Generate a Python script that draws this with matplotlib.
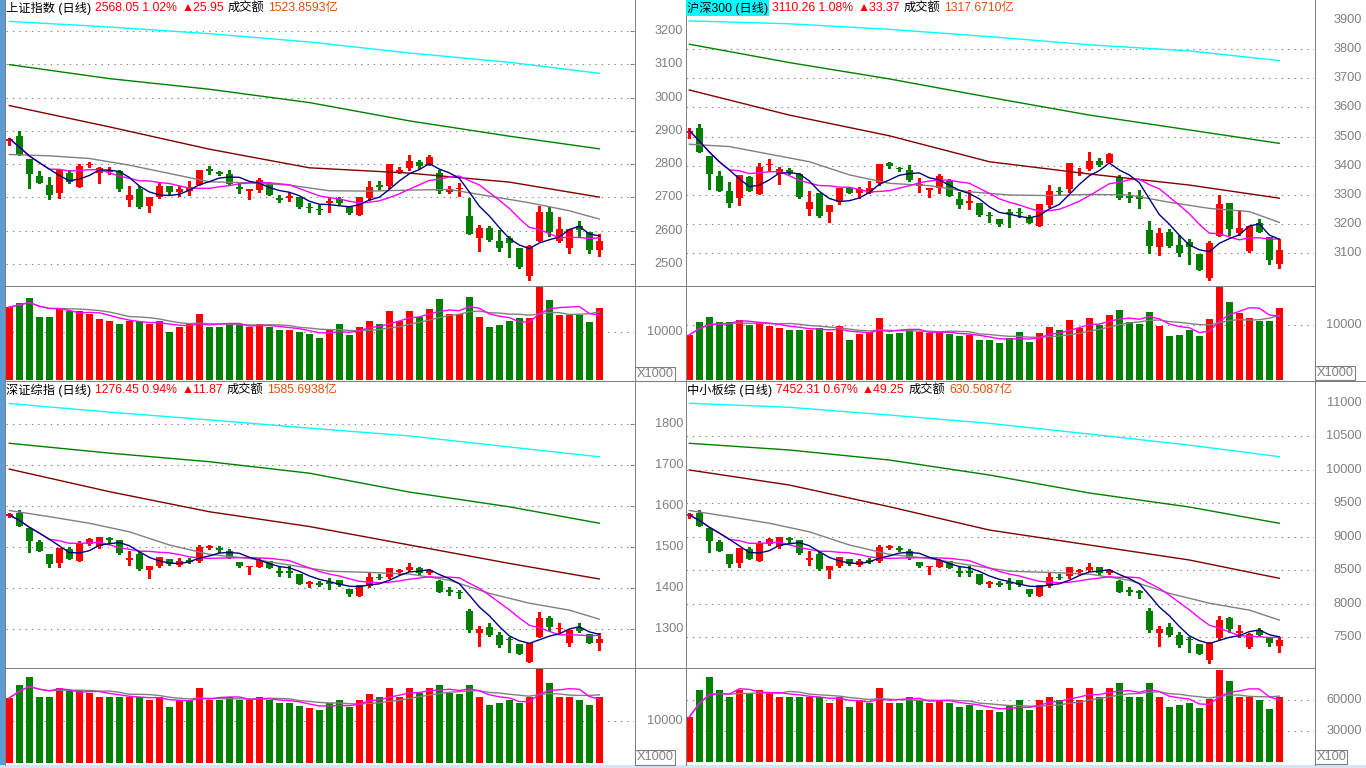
import numpy as np
import pandas as pd
import matplotlib
matplotlib.use("Agg")
import matplotlib.pyplot as plt
from matplotlib.lines import Line2D
from matplotlib.patches import Rectangle
from matplotlib.transforms import blended_transform_factory

# ---------------- data ----------------
# 上证指数
TL_open = [2870,2884,2815,2764,2737,2714,2772,2730,2798,2772,2779,2779,2692,2725,2675,2700,2734,2717,2720,2737,2783,2777,2770,2730,2721,2722,2740,2697,2700,2700,2671,2666,2682,2695,2672,2648,2699,2735,2735,2779,2787,2807,2797,2772,2717,2726,2644,2579,2609,2569,2579,2549,2465,2570,2657,2570,2547,2614,2596,2542]
TL_high = [2878,2899,2815,2779,2762,2782,2782,2801,2805,2791,2792,2781,2735,2734,2700,2744,2734,2735,2749,2782,2794,2779,2782,2742,2722,2758,2742,2707,2716,2702,2682,2677,2697,2701,2672,2701,2749,2749,2800,2791,2827,2812,2826,2781,2735,2742,2698,2617,2614,2602,2584,2549,2557,2674,2672,2642,2605,2629,2596,2589]
TL_low = [2857,2826,2729,2744,2695,2699,2744,2730,2790,2744,2769,2719,2674,2668,2657,2698,2708,2705,2707,2737,2770,2768,2738,2714,2695,2716,2706,2686,2689,2668,2657,2651,2657,2679,2650,2648,2692,2723,2727,2774,2782,2788,2797,2713,2713,2704,2589,2540,2569,2540,2522,2488,2452,2570,2585,2567,2533,2584,2533,2524]
TL_close = [2877,2826,2771,2744,2707,2782,2747,2795,2799,2789,2781,2725,2707,2670,2700,2735,2717,2725,2732,2782,2781,2771,2740,2728,2722,2752,2707,2695,2702,2670,2669,2662,2690,2684,2654,2701,2731,2734,2800,2781,2809,2795,2822,2719,2724,2728,2589,2609,2572,2549,2564,2492,2554,2657,2597,2605,2605,2602,2542,2568]
TL_vol = [15200,16100,17100,13100,13100,14800,14400,14400,13700,12700,12200,11600,12200,12200,11600,12200,10100,11000,11600,13700,11000,11000,11600,11600,11000,11600,11000,10500,10500,9900,9500,8800,10500,11600,9300,11000,12200,11600,14400,12200,14400,13100,14800,16900,13700,13700,17300,13100,11000,11400,12200,12900,12900,19400,16700,13500,13500,13500,12100,15000]
TL_ma250 = [3229,3212,3192,3167,3134,3106,3073]
TL_ma120 = [3099,3057,3025,2985,2930,2884,2846]
TL_ma60 = [2976,2912,2845,2789,2773,2746,2701]
TL_ma20 = [2829,2825,2817,2797,2772,2747,2744,2737,2720,2719,2722,2724,2704,2684,2660,2635]

# 沪深300
TR_open = [3511,3529,3434,3366,3314,3289,3362,3303,3403,3371,3386,3371,3252,3308,3240,3275,3325,3306,3306,3340,3409,3394,3386,3333,3320,3325,3349,3286,3276,3274,3231,3218,3241,3241,3222,3195,3264,3312,3321,3377,3389,3417,3411,3363,3295,3298,3180,3123,3174,3129,3140,3098,3014,3161,3274,3171,3108,3203,3155,3062]
TR_high = [3528,3542,3434,3382,3343,3369,3365,3411,3424,3397,3392,3374,3314,3308,3266,3325,3329,3329,3348,3405,3414,3397,3403,3357,3321,3371,3354,3309,3317,3274,3243,3218,3252,3254,3231,3269,3334,3329,3409,3394,3449,3426,3443,3369,3309,3317,3211,3186,3182,3163,3149,3098,3142,3300,3274,3249,3194,3218,3155,3149]
TR_low = [3494,3449,3321,3314,3260,3264,3312,3303,3382,3338,3371,3291,3232,3225,3206,3269,3306,3291,3306,3334,3392,3382,3348,3311,3294,3308,3297,3254,3252,3229,3209,3195,3191,3226,3203,3195,3260,3300,3309,3369,3386,3401,3411,3286,3275,3257,3100,3094,3123,3091,3062,3043,3009,3161,3163,3163,3104,3174,3064,3051]
TR_close = [3521,3449,3372,3314,3274,3369,3314,3397,3405,3389,3377,3294,3275,3228,3266,3325,3308,3321,3323,3405,3400,3388,3351,3334,3321,3365,3297,3264,3277,3231,3229,3200,3234,3239,3205,3269,3314,3311,3409,3378,3417,3403,3441,3289,3293,3285,3126,3171,3125,3102,3120,3043,3137,3269,3182,3186,3194,3174,3077,3110]
TR_vol = [8200,10500,11500,10500,10500,10900,10000,10500,9800,9500,9100,9100,9100,9500,8700,9800,7300,8400,8700,11300,8400,8500,9100,8700,8500,8700,8400,8000,8200,7300,7300,6700,7600,8700,6900,8500,9600,9100,10900,9500,11300,10000,11800,12700,10500,10200,12400,9800,8000,8200,9100,8000,11100,16900,14200,12200,11300,10700,10700,13100]
TR_ma250 = [3897,3887,3868,3843,3815,3794,3761]
TR_ma120 = [3817,3754,3698,3635,3574,3523,3477]
TR_ma60 = [3660,3574,3503,3414,3372,3334,3289]
TR_ma20 = [3474,3466,3440,3414,3369,3340,3332,3311,3300,3298,3302,3300,3275,3254,3243,3206]

# 深证综指
BL_open = [1577,1584,1547,1513,1484,1460,1495,1466,1507,1503,1523,1517,1470,1482,1444,1454,1471,1456,1466,1467,1500,1498,1490,1464,1452,1452,1467,1440,1439,1434,1411,1413,1414,1419,1397,1381,1406,1426,1428,1441,1444,1450,1436,1417,1393,1390,1344,1291,1304,1285,1275,1263,1220,1281,1328,1301,1267,1303,1287,1265]
BL_high = [1584,1590,1547,1517,1484,1498,1501,1515,1521,1524,1525,1517,1490,1489,1454,1476,1471,1472,1474,1505,1506,1502,1495,1464,1453,1472,1467,1452,1454,1434,1417,1417,1424,1419,1397,1407,1436,1433,1450,1446,1460,1452,1446,1419,1403,1395,1350,1307,1314,1293,1281,1263,1267,1341,1332,1314,1297,1314,1287,1291]
BL_low = [1572,1552,1487,1491,1452,1452,1471,1466,1505,1497,1513,1484,1456,1444,1425,1452,1456,1454,1460,1464,1495,1489,1472,1452,1433,1452,1448,1430,1428,1410,1403,1405,1398,1406,1381,1381,1403,1422,1424,1433,1441,1433,1433,1391,1383,1376,1292,1259,1284,1257,1245,1238,1219,1281,1298,1293,1259,1292,1265,1249]
BL_close = [1578,1552,1515,1491,1458,1498,1471,1509,1519,1524,1517,1485,1471,1446,1454,1475,1458,1466,1465,1501,1501,1493,1474,1454,1453,1468,1448,1439,1438,1410,1412,1407,1411,1407,1385,1407,1427,1425,1450,1442,1452,1436,1444,1391,1392,1389,1297,1299,1285,1261,1274,1238,1267,1328,1306,1302,1297,1295,1265,1276]
BL_vol = [15500,18600,20500,15700,15700,17900,17400,17400,16700,15700,15700,15700,15700,15700,15000,15700,13300,15000,15000,17900,15000,15000,15700,15000,15000,15700,15000,14300,14300,13600,13100,12600,14300,15000,13300,15000,16400,15700,17900,15700,17900,16700,17900,18600,16700,16400,18600,15700,13800,14300,15000,14300,15700,22400,19000,15700,15700,15000,13800,15700]
BL_ma250 = [1850,1829,1810,1790,1771,1744,1720]
BL_ma120 = [1753,1729,1708,1680,1634,1598,1558]
BL_ma60 = [1690,1635,1586,1550,1505,1460,1422]
BL_ma20 = [1589,1574,1558,1537,1505,1482,1472,1456,1441,1438,1434,1419,1387,1363,1346,1324]

# 中小板综
BR_open = [9318,9361,9134,8926,8748,8601,8815,8638,8889,8864,8987,8950,8662,8736,8503,8564,8668,8576,8638,8644,8846,8834,8785,8625,8552,8552,8644,8478,8472,8441,8300,8313,8319,8349,8215,8117,8270,8392,8405,8484,8503,8540,8454,8337,8190,8172,7890,7565,7645,7528,7467,7393,7150,7480,7780,7575,7355,7605,7490,7370]
BR_high = [9361,9398,9134,8950,8748,8834,8852,8938,8975,8993,8999,8950,8785,8779,8564,8699,8668,8674,8687,8877,8883,8858,8815,8625,8558,8674,8644,8552,8564,8441,8337,8337,8380,8349,8215,8276,8454,8435,8540,8515,8601,8552,8515,8349,8251,8202,7927,7663,7706,7577,7504,7393,7420,7818,7800,7680,7560,7630,7500,7500]
BR_low = [9287,9165,8766,8791,8552,8552,8668,8638,8877,8828,8926,8748,8576,8503,8386,8552,8576,8564,8601,8625,8815,8779,8674,8552,8435,8552,8527,8417,8405,8294,8251,8264,8221,8270,8117,8117,8251,8368,8380,8435,8484,8435,8435,8178,8129,8086,7571,7369,7522,7356,7283,7240,7116,7470,7580,7505,7335,7520,7370,7280]
BR_close = [9324,9165,8938,8791,8589,8834,8668,8901,8962,8993,8950,8754,8668,8515,8564,8693,8589,8638,8631,8852,8852,8803,8687,8564,8558,8650,8527,8472,8466,8294,8307,8276,8300,8276,8141,8276,8399,8386,8540,8490,8552,8454,8503,8178,8184,8166,7602,7614,7528,7381,7461,7240,7405,7754,7615,7582,7545,7530,7403,7452]
BR_vol = [43500,69700,82300,69700,62900,69700,66800,69700,66800,62900,62900,62900,62900,62900,57100,62900,53200,60000,57100,71600,57100,57100,62900,60000,57100,60000,57100,53200,55200,50300,50300,48400,55200,60000,50300,60000,62900,60000,71600,60000,71600,62900,71600,76400,62900,62900,76400,62900,53200,55200,57100,52300,61000,89000,78400,62900,62900,60000,51300,62900]
BR_ma250 = [10996,10936,10820,10696,10536,10370,10197]
BR_ma120 = [10397,10297,10147,9923,9654,9444,9201]
BR_ma60 = [9998,9773,9449,9100,8876,8652,8378]
BR_ma20 = [9392,9300,9202,9073,8877,8736,8674,8576,8484,8466,8441,8349,8153,8006,7902,7754]

MA_IDX7 = [0, 10, 20, 30, 40, 50, 59]
MA_IDX16 = [0, 4, 8, 12, 16, 20, 24, 28, 32, 36, 40, 44, 48, 52, 56, 59]

HEADERS = {
    'TL': [("上证指数 (日线)", 'black'), ("2568.05 1.02%", 'red'), ("▲25.95", 'red'), ("成交额", 'black'), ("1523.8593亿", 'amt')],
    'TR': [("沪深300 (日线)", 'black'), ("3110.26 1.08%", 'red'), ("▲33.37", 'red'), ("成交额", 'black'), ("1317.6710亿", 'amt')],
    'BL': [("深证综指 (日线)", 'black'), ("1276.45 0.94%", 'red'), ("▲11.87", 'red'), ("成交额", 'black'), ("1585.6938亿", 'amt')],
    'BR': [("中小板综 (日线)", 'black'), ("7452.31 0.67%", 'red'), ("▲49.25", 'red'), ("成交额", 'black'), ("630.5087亿", 'amt')],
}
TL_ticks = [2500, 2600, 2700, 2800, 2900, 3000, 3100, 3200]
TR_ticks = [3100, 3200, 3300, 3400, 3500, 3600, 3700, 3800, 3900]
BL_ticks = [1300, 1400, 1500, 1600, 1700, 1800]
BR_ticks = [7500, 8000, 8500, 9000, 9500, 10000, 10500, 11000]

# ---------------- style ----------------
RED = '#FF0000'
GREEN = '#008000'
GRAY = '#808080'
COLS = {'black': '#000000', 'red': '#FF0000', 'amt': '#E0500A'}
HDRF = ['Liberation Sans', 'Noto Sans CJK SC', 'DejaVu Sans']
NUMF = ['Liberation Sans', 'DejaVu Sans']

W, H = 1366, 768
fig = plt.figure(figsize=(W / 100, H / 100), dpi=100)
fig.patch.set_facecolor('white')


def add_ax(x0, y0, x1, y1):
    ax = fig.add_axes([x0 / W, 1 - y1 / H, (x1 - x0) / W, (y1 - y0) / H])
    ax.set_axis_off()
    return ax


def fline(x0, y0, x1, y1, color=GRAY, lw=1.0):
    fig.add_artist(Line2D([x0 / W, x1 / W], [1 - y0 / H, 1 - y1 / H], color=color,
                          lw=lw * 0.72, transform=fig.transFigure, antialiased=False))


def ylim_from(v1, p1, v2, p2, top, bottom):
    s = (p1 - p2) / (v2 - v1)  # px per unit
    return v1 - (bottom - p1) / s, v1 + (p1 - top) / s


def dotted(ax, vals):
    for v in vals:
        ax.axhline(v, color=GRAY, lw=0.8, ls=(0, (1.2, 4.5)), zorder=0.5)


def labels(ax, vals, xpix, x0, x1, tick=False):
    trans = blended_transform_factory(ax.transAxes, ax.transData)
    xf = (xpix - x0) / (x1 - x0)
    for v in vals:
        ax.text(xf, v, str(v), transform=trans, ha='right', va='center', color=GRAY,
                fontsize=9.2, family=NUMF, clip_on=False)
        if tick:
            ax.plot([(x1 - 4 - x0) / (x1 - x0), 1.0], [v, v], transform=trans, color=GRAY,
                    lw=0.8, clip_on=False, solid_capstyle='butt')


def draw_panel(box, vbox, O, Hh, L, C, V, m250, m120, m60, m20, ylim, vlim):
    x0, y0, x1, y1 = box
    ax = add_ax(*box)
    O, Hh, L, C = map(np.asarray, (O, Hh, L, C))
    n = len(O)
    x = np.arange(n)
    ax.set_xlim(-0.33, 62.47)
    ax.set_ylim(*ylim)
    eps = (ylim[1] - ylim[0]) / (y1 - y0) * 1.6
    up = C >= O
    col = np.where(up, RED, GREEN)
    ax.vlines(x, L, Hh, colors=col, lw=0.9, antialiased=False, zorder=2)
    body = np.abs(C - O)
    bot = np.minimum(O, C)
    small = body < eps
    bot = np.where(small, (O + C) / 2 - eps / 2, bot)
    body = np.where(small, eps, body)
    ax.bar(x, body, bottom=bot, width=0.7, color=col, lw=0, antialiased=False, zorder=3)
    cs = pd.Series(C)
    ma5 = cs.rolling(5, min_periods=1).mean()
    ma10 = cs.rolling(10, min_periods=1).mean()
    ax.plot(MA_IDX7, m250, color='#00FFFF', lw=1.0, zorder=4)
    ax.plot(MA_IDX7, m120, color='#008000', lw=1.0, zorder=4)
    ax.plot(MA_IDX7, m60, color='#800000', lw=1.0, zorder=4)
    ax.plot(MA_IDX16, m20, color=GRAY, lw=1.0, zorder=4)
    ax.plot(x, ma10, color='#FF00FF', lw=1.0, zorder=5)
    ax.plot(x, ma5, color='#000080', lw=1.0, zorder=6)

    vax = add_ax(*vbox)
    vax.set_xlim(-0.33, 62.47)
    vax.set_ylim(*vlim)
    V = np.asarray(V)
    vax.bar(x, V, width=0.7, color=col, lw=0, antialiased=False, zorder=3)
    vs = pd.Series(V)
    vax.plot(x, vs.rolling(10, min_periods=1).mean(), color=GRAY, lw=1.0, zorder=4)
    vax.plot(x, vs.rolling(5, min_periods=1).mean(), color='#FF00FF', lw=1.0, zorder=5)
    return ax, vax


renderer = fig.canvas.get_renderer()


def header(xp, yp, parts, bg=None):
    for i, (txt, c) in enumerate(parts):
        kw = {}
        if i == 0 and bg:
            kw['bbox'] = dict(facecolor=bg, edgecolor='none', pad=0.8)
        t = fig.text(xp / W, 1 - yp / H, txt, color=COLS[c], fontsize=8.8, family=HDRF,
                     ha='left', va='center', **kw)
        bb = t.get_window_extent(renderer)
        xp += bb.width + 4


# ---- layout ----
LX0, LX1 = 6, 634
RX0, RX1 = 686, 1314

TLbox = (LX0, 0, LX1, 285)
TLv = (LX0, 286, LX1, 380)
tl_ylim = ylim_from(2500, 264, 3200, 31, 0, 285)
tl_vlim = ylim_from(0, 380, 10000, 332, 286, 380)
ax, vax = draw_panel(TLbox, TLv, TL_open, TL_high, TL_low, TL_close, TL_vol,
                     TL_ma250, TL_ma120, TL_ma60, TL_ma20, tl_ylim, tl_vlim)
dotted(ax, TL_ticks)
labels(ax, TL_ticks, 683, LX0, LX1, tick=True)
dotted(vax, [10000])
labels(vax, [10000], 683, LX0, LX1)

TRbox = (RX0, 0, RX1, 285)
TRv = (RX0, 286, RX1, 380)
tr_ylim = ylim_from(3100, 253.3, 3900, 20, 0, 285)
tr_vlim = ylim_from(0, 380, 10000, 325, 286, 380)
ax, vax = draw_panel(TRbox, TRv, TR_open, TR_high, TR_low, TR_close, TR_vol,
                     TR_ma250, TR_ma120, TR_ma60, TR_ma20, tr_ylim, tr_vlim)
dotted(ax, TR_ticks[:-1])
labels(ax, TR_ticks, 1362, RX0, RX1)
dotted(vax, [10000])
labels(vax, [10000], 1362, RX0, RX1)

BLbox = (LX0, 382, LX1, 668)
BLv = (LX0, 669, LX1, 765)
bl_ylim = ylim_from(1300, 629, 1800, 424, 382, 668)
bl_vlim = ylim_from(0, 763, 10000, 721, 669, 765)
ax, vax = draw_panel(BLbox, BLv, BL_open, BL_high, BL_low, BL_close, BL_vol,
                     BL_ma250, BL_ma120, BL_ma60, BL_ma20, bl_ylim, bl_vlim)
dotted(ax, BL_ticks)
labels(ax, BL_ticks, 683, LX0, LX1, tick=True)
dotted(vax, [10000])
labels(vax, [10000], 683, LX0, LX1)

BRbox = (RX0, 382, RX1, 668)
BRv = (RX0, 669, RX1, 763)
br_ylim = ylim_from(7500, 637, 11000, 403, 382, 668)
br_vlim = ylim_from(0, 762, 60000, 700, 669, 763)
ax, vax = draw_panel(BRbox, BRv, BR_open, BR_high, BR_low, BR_close, BR_vol,
                     BR_ma250, BR_ma120, BR_ma60, BR_ma20, br_ylim, br_vlim)
dotted(ax, BR_ticks[:-1])
labels(ax, BR_ticks, 1362, RX0, RX1)
dotted(vax, [30000, 60000])
labels(vax, [30000, 60000], 1362, RX0, RX1)

# ---- frame lines ----
fig.add_artist(Rectangle((0, 3 / H), 4.5 / W, 1, transform=fig.transFigure, color='#5E9AD6', lw=0))
fig.add_artist(Rectangle((0, 0), 1, 3 / H, transform=fig.transFigure, color='#D6E4F5', lw=0))
fline(5, 0, 5, 765)
fline(634.5, 0, 634.5, 765)
fline(685.5, 0, 685.5, 765)
fline(1314.5, 0, 1314.5, 765)
fline(5, 285.5, 1314.5, 285.5)
fline(5, 381, 1366, 381)
fline(5, 668, 1314.5, 668)

for (bx0, by0, bx1, by1, txt) in [(635, 367, 675, 381, "X1000"), (1315, 366, 1355, 380, "X1000"),
                                 (635, 750, 675, 765, "X1000"), (1315, 750, 1347, 764, "X100")]:
    fig.add_artist(Rectangle((bx0 / W, 1 - by1 / H), (bx1 - bx0) / W, (by1 - by0) / H,
                             transform=fig.transFigure, fill=False, edgecolor=GRAY, lw=0.8))
    fig.text((bx0 + 2) / W, 1 - (by0 + by1) / 2 / H, txt, color=GRAY, fontsize=9.2, family=NUMF,
             ha='left', va='center')

header(6, 8, HEADERS['TL'])
header(687, 8, HEADERS['TR'], bg='#00FFFF')
header(6, 390, HEADERS['BL'])
header(687, 390, HEADERS['BR'])

fig.savefig('out.png', dpi=100, facecolor='white')
